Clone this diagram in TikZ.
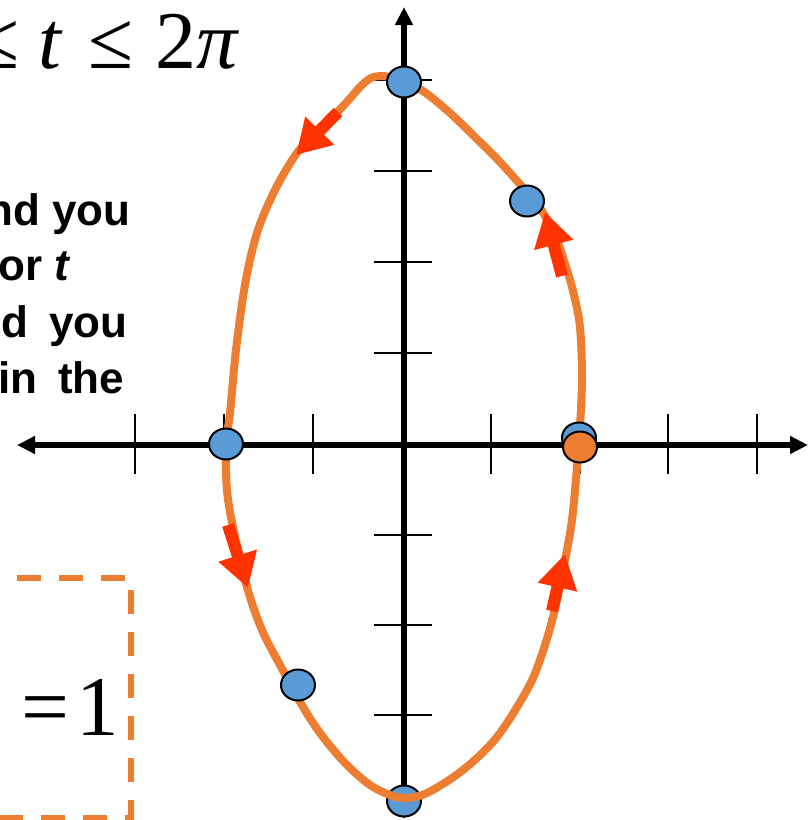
\documentclass[tikz,border=0pt]{standalone}
\usepackage{fontspec}
\setmainfont{Liberation Serif}
\newfontfamily\labelsans{Liberation Sans}
\usetikzlibrary{arrows.meta,shapes.geometric}
\definecolor{curveorange}{RGB}{237,125,49}
\definecolor{arrowred}{RGB}{255,51,0}
\definecolor{dotblue}{RGB}{91,155,213}
\tikzset{
  axisline/.style={line width=6pt,{Triangle[length=18pt,width=17pt]}-{Triangle[length=18pt,width=17pt]}},
  tickline/.style={line width=2pt},
  curveline/.style={curveorange,line width=8pt},
  dirarrow/.style={arrowred,line width=12pt,-{Triangle[length=34pt,width=38pt]}},
  dotnode/.style={ellipse,draw=black,line width=2pt,fill=dotblue,minimum width=34pt,minimum height=31pt,inner sep=0pt},
  bigmath/.style={inner sep=0pt,font=\fontsize{82}{90}\selectfont},
  onemath/.style={inner sep=0pt,font=\fontsize{85}{90}\selectfont},
  sidetext/.style={inner sep=0pt,anchor=base west,font=\labelsans\bfseries\fontsize{44}{50}\selectfont},
  dashbox/.style={curveorange,line width=6pt,dash pattern=on 24pt off 18pt}
}
\begin{document}
\begin{tikzpicture}[x=1pt,y=-1pt]
\useasboundingbox (0,0) rectangle (808,820);
\clip (0,0) rectangle (808,820);
% axes
\coordinate (xl) at (17,445);
\coordinate (xr) at (808,445);
\coordinate (yt) at (404,7);
\coordinate (yb) at (404,819);
\draw[axisline] (xl) -- (xr);
\draw[axisline] (yt) -- (yb);
% ticks
\foreach \tx in {135,224,313,491,580,668,757}
  \draw[tickline] (\tx,414) -- (\tx,474);
\foreach \ty in {80,171,262,353,535,625,715}
  \draw[tickline] (374,\ty) -- (432,\ty);
% bottom dot lies under the curve
\node[dotnode] (pbottom) at (404,801) {};
% curve
\draw[curveline] plot[smooth cycle,tension=0.55] coordinates {
(404,83) (393,78) (382,76) (371,78) (360,87) (345,104) (318,132) (297,153)
(275,190) (257,233) (245,285) (236,350) (230,413) (226,445) (227,490) (233,527)
(247,587) (262,630) (280,665) (303,707) (323,737) (347,765) (370,785) (390,795)
(405,798) (427,793) (463,770) (497,737) (527,690) (540,660) (553,617) (565,560)
(572,520) (577,467) (580,427) (582,377) (580,327) (574,295) (567,270) (555,235)
(540,208) (525,190) (500,162) (478,140) (450,113) (423,91)};
% direction arrows
\coordinate (a1s) at (338,112); \coordinate (a1e) at (296,155);
\coordinate (a2s) at (562,276); \coordinate (a2e) at (545,212);
\coordinate (a3s) at (228,525); \coordinate (a3e) at (248,588);
\coordinate (a4s) at (552,611); \coordinate (a4e) at (565,554);
\draw[dirarrow] (a1s) -- (a1e);
\draw[dirarrow] (a2s) -- (a2e);
\draw[dirarrow] (a3s) -- (a3e);
\draw[dirarrow] (a4s) -- (a4e);
% dots
\node[dotnode] (ptop) at (404,82) {};
\node[dotnode] (pq1) at (527,201) {};
\node[dotnode] (pright) at (579,438) {};
\node[dotnode,fill=curveorange] (pstart) at (580,447) {};
\node[dotnode] (pleft) at (226,444) {};
\node[dotnode] (pq3) at (298,685) {};
% top formula
\node[bigmath,anchor=base west] (range) at (-26,68) {≤\hspace{19pt}\textit{t}\hspace{26pt}≤\hspace{22pt}2\textit{π}};
% side text
\node[sidetext] (l1) at (-14,225) {nd you};
\node[sidetext] (l2) at (-2,280) {or \textit{t}};
\node[sidetext] (l3) at (1,337) {d\hspace{21pt}you};
\node[sidetext] (l4) at (-2,393) {in\hspace{21pt}the};
% dashed box
\draw[dashbox] (-25,578) -- (131,578) -- (131,818) -- (-25,818);
\node[onemath,anchor=base west] (eqone) at (21,735) {=\hspace{7pt}1};
\end{tikzpicture}
\end{document}
